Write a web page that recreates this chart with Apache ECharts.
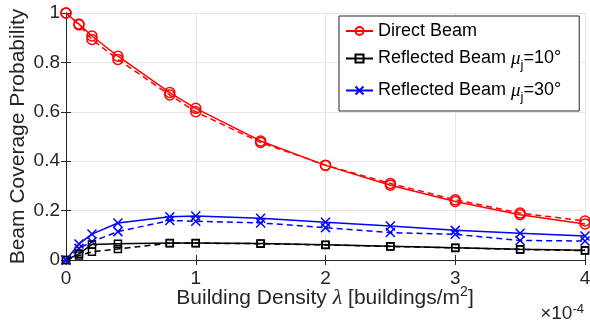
<!DOCTYPE html>
<html><head><meta charset="utf-8">
<script src="https://cdn.jsdelivr.net/npm/echarts@6/dist/echarts.min.js"></script>
<style>html,body{margin:0;padding:0;background:#fff}#c{width:590px;height:324px}</style>
</head><body><div id="c"></div>
<script>
// Building density in units of 1e-4 buildings/m^2
const densities = [0, 0.1, 0.2, 0.4, 0.8, 1.0, 1.5, 2.0, 2.5, 3.0, 3.5, 4.0];
const directSolid = [1.000, 0.955, 0.907, 0.825, 0.678, 0.614, 0.482, 0.383, 0.303, 0.237, 0.183, 0.146];
const directDashed = [1.000, 0.952, 0.893, 0.812, 0.668, 0.600, 0.476, 0.384, 0.310, 0.244, 0.190, 0.158];
const refl10Solid = [0.000, 0.025, 0.063, 0.066, 0.069, 0.069, 0.067, 0.062, 0.056, 0.050, 0.044, 0.039];
const refl10Dashed = [0.000, 0.018, 0.033, 0.045, 0.068, 0.068, 0.066, 0.061, 0.055, 0.049, 0.043, 0.038];
const refl30Solid = [0.000, 0.065, 0.105, 0.150, 0.175, 0.178, 0.169, 0.153, 0.138, 0.120, 0.108, 0.097];
const refl30Dashed = [0.000, 0.047, 0.074, 0.115, 0.160, 0.157, 0.150, 0.131, 0.111, 0.104, 0.079, 0.077];
const xTickValues = [0, 1, 2, 3, 4];
const yTickValues = [0, 0.2, 0.4, 0.6, 0.8, 1];
const legendNames = ['Direct Beam', 'Reflected Beam μj=10°', 'Reflected Beam μj=30°'];

const FONT = 'Liberation Sans, Arial, Helvetica, sans-serif';
const AX = '#262626';
const pairs = ys => densities.map((x, i) => [x, ys[i]]);
const X_PATH = 'path://M0,0L10,10M0,10L10,0';

function mk(name, ys, color, symbol, size, dashed) {
  return {
    name, type: 'line', data: pairs(ys), symbol, symbolSize: size,
    showSymbol: true, silent: true, animation: false,
    lineStyle: { color, width: 1.5, type: dashed ? [6, 4] : 'solid' },
    itemStyle: { color: 'rgba(0,0,0,0)', borderColor: color, borderWidth: 1.5 },
    emphasis: { disabled: true }, z: dashed ? 2 : 3
  };
}

const chart = echarts.init(document.getElementById('c'), null, { renderer: 'canvas' });
const axisCommon = {
  type: 'value', axisLine: { show: true, lineStyle: { color: AX, width: 1 } },
  axisTick: { show: true, inside: true, length: 5, lineStyle: { color: AX } },
  minorTick: { show: false }
};
chart.setOption({
  animation: false,
  grid: { left: 66, right: 5, top: 13, bottom: 64, containLabel: false, outerBoundsMode: 'none' },
  xAxis: [
    Object.assign({}, axisCommon, {
      position: 'bottom', min: xTickValues[0], max: xTickValues[xTickValues.length - 1], interval: 1,
      axisLabel: { fontFamily: FONT, fontSize: 19, color: AX, margin: 9 },
      splitLine: { show: true, lineStyle: { color: '#e6e6e6', width: 1 } }
    }),
    Object.assign({}, axisCommon, {
      position: 'top', min: xTickValues[0], max: xTickValues[xTickValues.length - 1], interval: 1,
      axisLabel: { show: false }, splitLine: { show: false }
    })
  ],
  yAxis: [
    Object.assign({}, axisCommon, {
      position: 'left', min: yTickValues[0], max: yTickValues[yTickValues.length - 1], interval: 0.2,
      axisLabel: { fontFamily: FONT, fontSize: 19, color: AX, margin: 6 },
      splitLine: { show: true, lineStyle: { color: '#e6e6e6', width: 1 } }
    }),
    Object.assign({}, axisCommon, {
      position: 'right', min: yTickValues[0], max: yTickValues[yTickValues.length - 1], interval: 0.2,
      axisLabel: { show: false }, splitLine: { show: false }
    })
  ],
  legend: {
    data: legendNames, orient: 'vertical', left: 339, top: 16,
    backgroundColor: '#fff', borderColor: AX, borderWidth: 1,
    padding: [6, 18, 7, 6], itemGap: 9, itemWidth: 27, itemHeight: 10,
    selectedMode: false,
    formatter: function (n) {
      const m = n.match(/μj=(\d+)°/);
      if (!m) return n;
      return 'Reflected Beam {mu|μ}{sub|j}{t|=' + m[1] + '°}';
    },
    textStyle: {
      fontFamily: FONT, fontSize: 18, color: '#000',
      rich: {
        mu: { fontFamily: 'Liberation Serif, serif', fontStyle: 'italic', fontSize: 19, color: '#000', verticalAlign: 'middle' },
        sub: { fontFamily: FONT, fontSize: 13, color: '#000', padding: [14, 0, 0, 0], verticalAlign: 'bottom' },
        t: { fontFamily: FONT, fontSize: 18, color: '#000' }
      }
    }
  },
  graphic: [
    {
      type: 'text', x: 18, y: 136.5, rotation: Math.PI / 2,
      style: { text: 'Beam Coverage Probability', font: '21px ' + FONT, fill: AX, align: 'center', verticalAlign: 'middle' }
    },
    {
      type: 'text', x: 325, y: 298,
      style: {
        text: 'Building Density {lam|λ} [buildings/m{sup|2}]',
        font: '21px ' + FONT, fill: AX, align: 'center', verticalAlign: 'middle',
        rich: {
          lam: { fontFamily: 'Liberation Serif, serif', fontStyle: 'italic', fontSize: 22, fill: AX },
          sup: { fontFamily: FONT, fontSize: 14, fill: AX, padding: [0, 0, 12, 0], verticalAlign: 'top' }
        }
      }
    },
    {
      type: 'text', x: 584, y: 314,
      style: {
        text: '×10{sup|-4}', font: '19px ' + FONT, fill: AX, align: 'right', verticalAlign: 'middle',
        rich: { sup: { fontFamily: FONT, fontSize: 13, fill: AX, padding: [0, 0, 10, 0], verticalAlign: 'top' } }
      }
    }
  ],
  series: [
    mk('Direct Beam (dashed)', directDashed, '#ff0000', 'circle', 10, true),
    mk('Reflected Beam μj=10° (dashed)', refl10Dashed, '#000000', 'rect', 7, true),
    mk('Reflected Beam μj=30° (dashed)', refl30Dashed, '#0000ff', X_PATH, 9, true),
    mk(legendNames[0], directSolid, '#ff0000', 'circle', 10, false),
    mk(legendNames[1], refl10Solid, '#000000', 'rect', 7, false),
    mk(legendNames[2], refl30Solid, '#0000ff', X_PATH, 9, false)
  ]
});
</script></body></html>
